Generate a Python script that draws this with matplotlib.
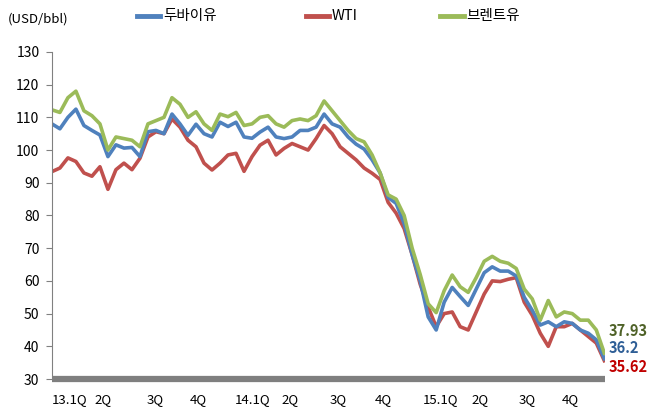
import matplotlib
matplotlib.use("Agg")
import matplotlib.pyplot as plt
from matplotlib.lines import Line2D

plt.rcParams['font.family'] = ['Noto Sans CJK KR', 'DejaVu Sans']

# weekly-ish samples, 2013.1Q ~ 2015.4Q
dubai = [108, 106.5, 110, 112.5, 107.5, 106, 104.6, 98, 101.6, 100.6,
         100.8, 98, 105.6, 106, 105, 111, 108, 104.5, 107.9, 105,
         104, 108.5, 107.2, 108.5, 104, 103.6, 105.5, 107, 104, 103.5,
         104, 106, 106, 107, 111, 108, 107, 104, 101.8, 100.3,
         97, 93, 85.5, 83.7, 77.5, 68, 60, 49, 45, 53.5,
         58, 55.2, 52.5, 57.5, 62.5, 64.3, 63, 63, 61.5, 55,
         51, 46.5, 47.5, 46, 47.5, 47, 45, 44, 42, 36.2]
wti = [93.4, 94.5, 97.6, 96.5, 93, 92, 94.9, 88, 94, 96,
       94, 97.5, 104, 105.6, 105, 109.5, 107, 103, 101, 96,
       93.9, 96, 98.5, 99, 93.5, 98, 101.5, 103, 98.5, 100.5,
       102, 101, 100, 103.5, 107.5, 105, 101, 99, 97, 94.5,
       92.9, 91, 84, 80.7, 76, 68, 59, 52, 46, 50,
       50.5, 46, 45, 50.5, 56, 60, 59.8, 60.5, 61, 53.5,
       49.5, 44, 40, 46, 46, 47, 45, 43, 41, 35.62]
brent = [112.3, 111.5, 116, 118, 112, 110.5, 108, 100, 104, 103.5,
         103, 101, 108, 109, 110, 116, 114, 110, 111.7, 108,
         106, 111, 110.2, 111.5, 107.5, 108, 110, 110.5, 108, 107,
         109, 109.5, 109, 110.5, 115, 112, 109, 106, 103.5, 102.5,
         98.5, 93, 86.3, 85, 80, 70, 62, 53, 50.3, 57,
         61.8, 58.2, 56.5, 61, 66, 67.5, 66, 65.4, 63.8, 57.5,
         54.5, 48, 54, 49, 50.5, 50, 48, 48, 45, 37.93]

series_names = ["두바이유", "WTI", "브렌트유"]
series_colors = ["#4F81BD", "#C0504D", "#9BBB59"]
label_colors = ["#2E5E96", "#C00000", "#4F6228"]

quarter_labels = ["13.1Q", "2Q", "3Q", "4Q", "14.1Q", "2Q", "3Q", "4Q",
                  "15.1Q", "2Q", "3Q", "4Q"]
quarter_pos = [2.25, 6.4, 12.9, 18.25, 25.1, 29.75, 35.75, 41.4,
               48.5, 53.5, 59.4, 64.75]

fig = plt.figure(figsize=(6.57, 4.12), dpi=100)
ax = fig.add_axes([0.079, 0.080, 0.842, 0.794])

x = list(range(len(dubai)))
data = [dubai, wti, brent]
# draw WTI, Dubai, then Brent on top like the original
for i in [1, 0, 2]:
    ax.plot(x, data[i], color=series_colors[i], lw=2.6, solid_joinstyle='round')

ax.set_xlim(0, len(x) - 0.9)
ax.set_ylim(30, 130)
ax.set_yticks(range(30, 131, 10))
ax.tick_params(axis='y', direction='out', length=4, color='#808080',
               labelsize=10, pad=5)
ax.set_xticks(quarter_pos)
ax.set_xticklabels(quarter_labels, fontsize=9.5)
ax.tick_params(axis='x', length=0, pad=10)

for s in ['top', 'right', 'bottom']:
    ax.spines[s].set_visible(False)
ax.spines['left'].set_color('#808080')
ax.spines['left'].set_linewidth(0.8)

# thick gray base line
ax.axhline(30, color='#7F7F7F', lw=4.5, clip_on=False, solid_capstyle='butt')

# end value labels
end_y = [39.4, 33.8, 44.7]
for i in [2, 0, 1]:
    ax.text(len(x) - 0.5, end_y[i], f"{data[i][-1]:g}", color=label_colors[i],
            fontsize=10.5, fontweight='bold', va='center', ha='left',
            clip_on=False)

# unit + legend across the top
fig.text(0.012, 0.955, "(USD/bbl)", fontsize=9.5, va='center', ha='left')
leg_x = [0.208, 0.465, 0.670]
for i in range(3):
    fig.add_artist(Line2D([leg_x[i], leg_x[i] + 0.036], [0.962, 0.962],
                          color=series_colors[i], lw=3.5,
                          transform=fig.transFigure))
    fig.text(leg_x[i] + 0.040, 0.962, series_names[i], fontsize=10.5,
             va='center', ha='left')

fig.savefig("out.png", dpi=100)
